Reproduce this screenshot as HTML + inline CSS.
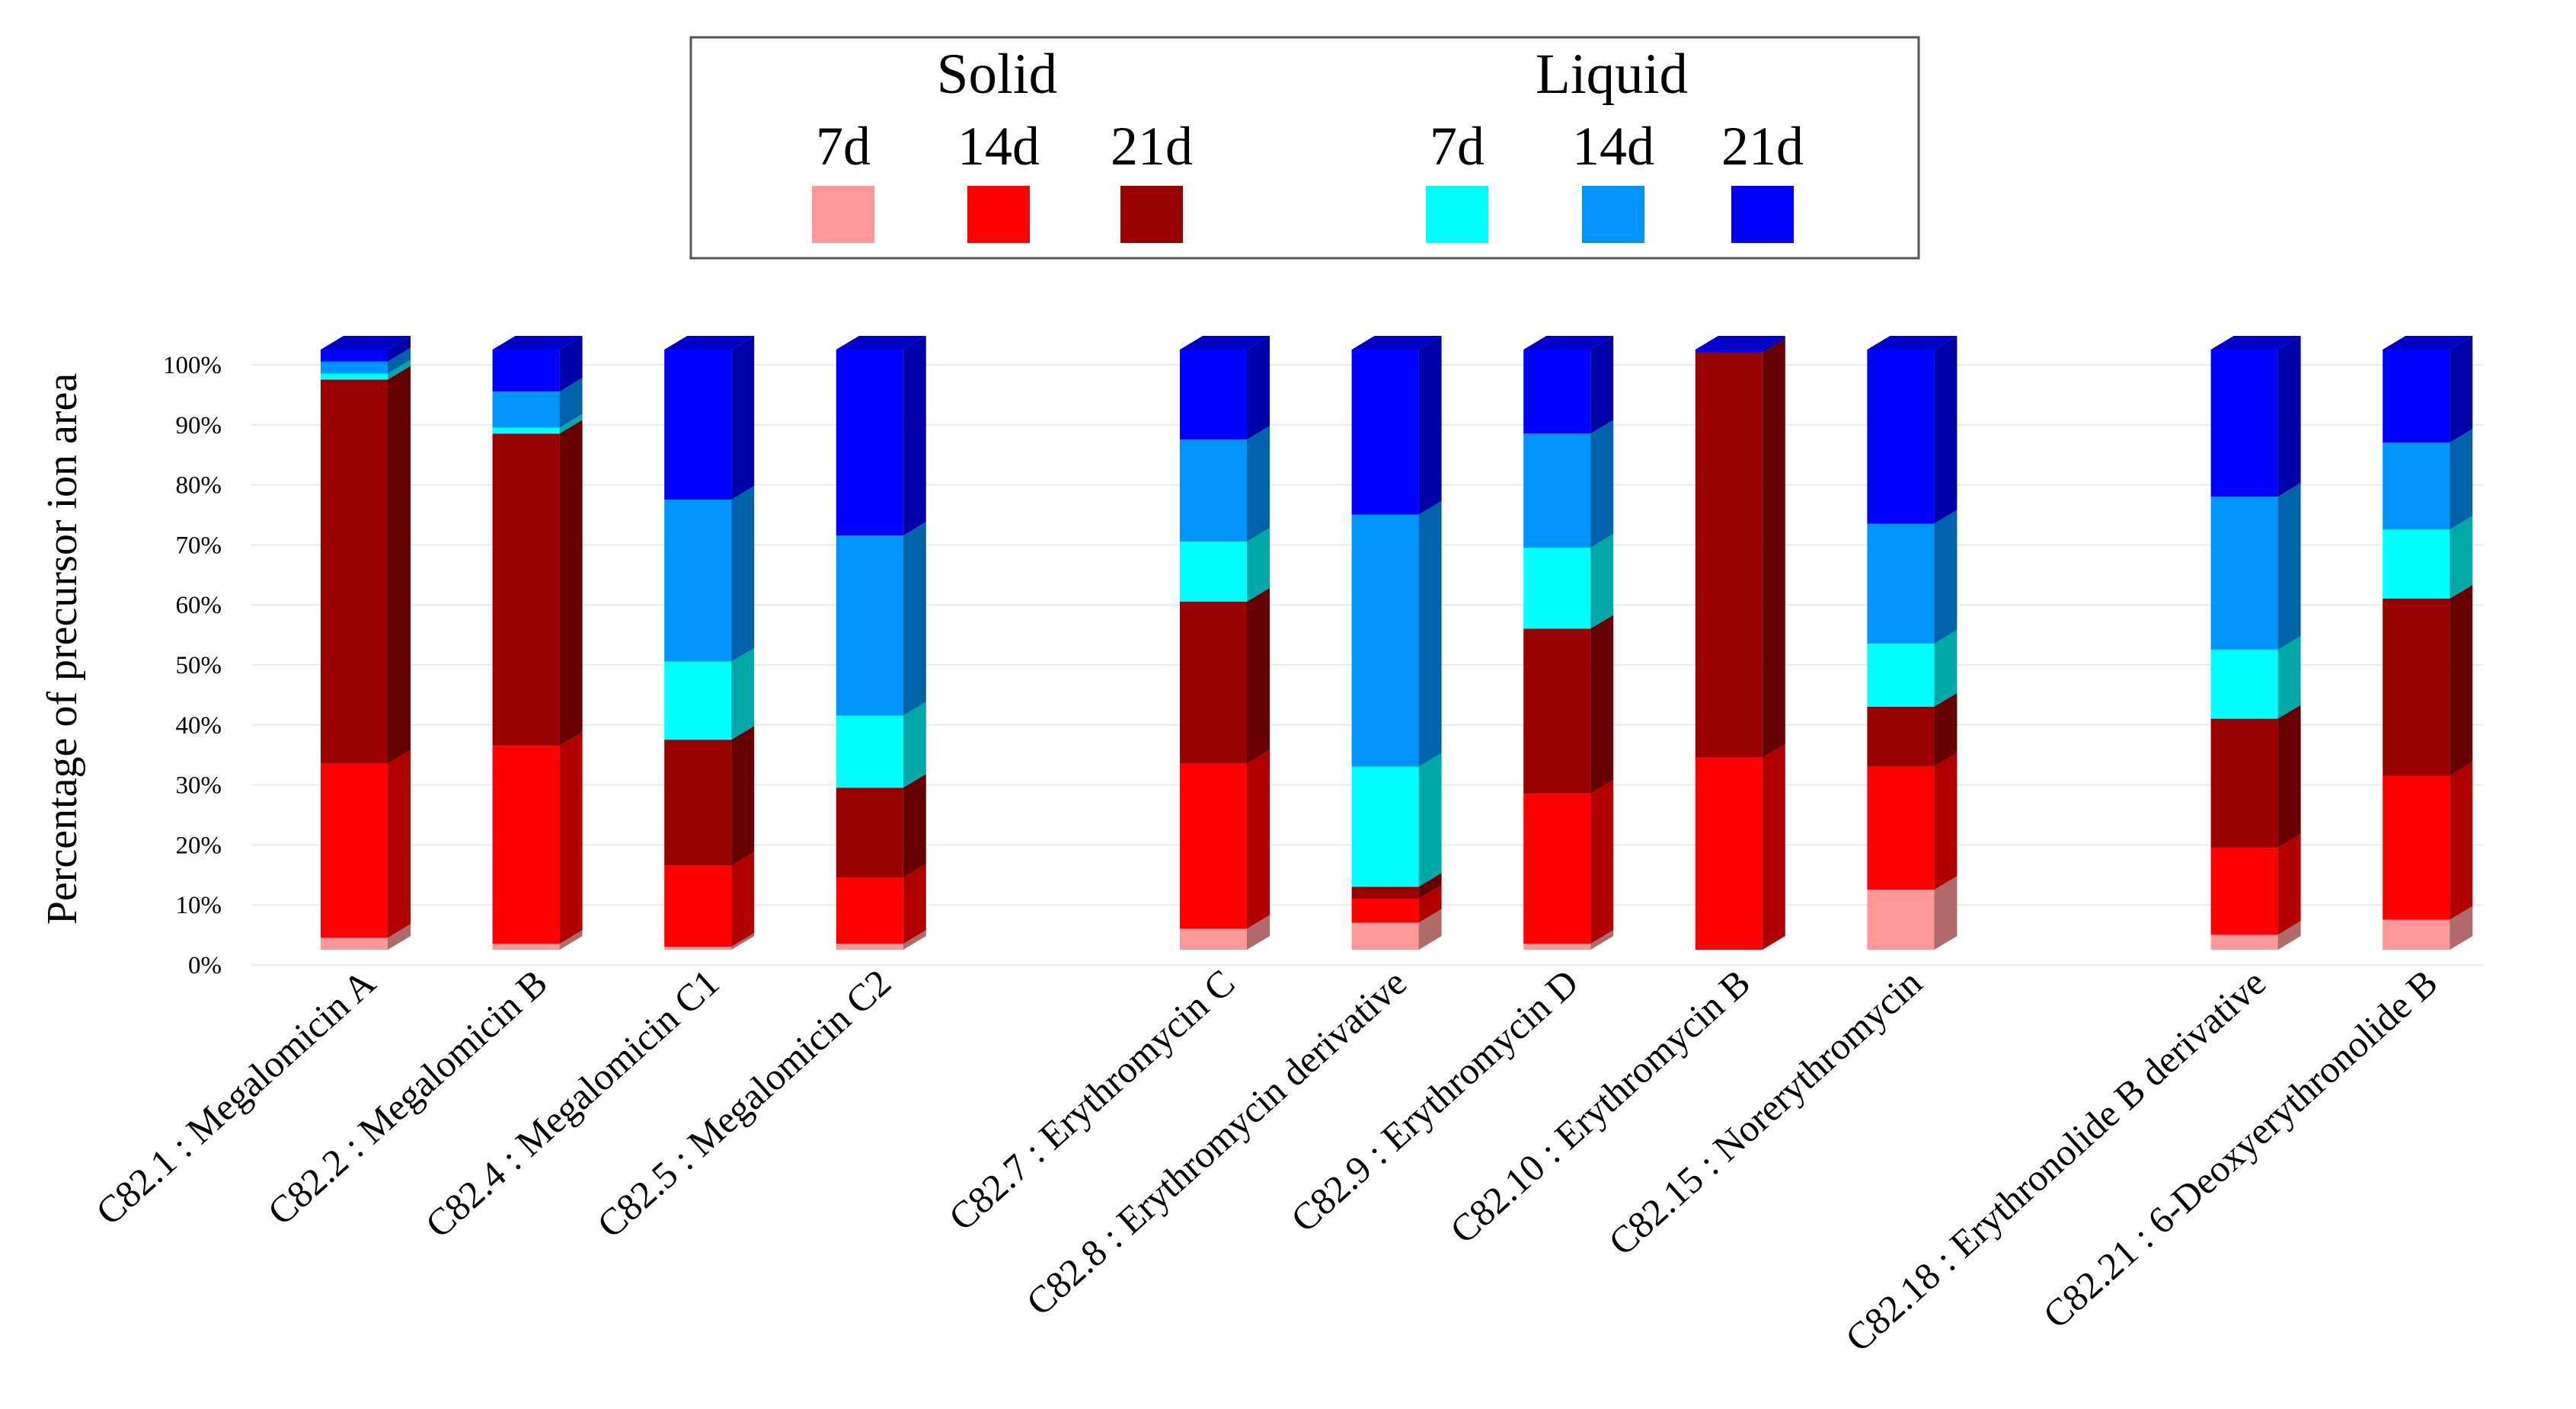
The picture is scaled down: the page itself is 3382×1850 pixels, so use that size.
<!DOCTYPE html>
<html><head><meta charset="utf-8"><style>
html,body{margin:0;padding:0;background:#fff;}
svg{display:block;font-family:"Liberation Serif",serif;}
</style></head><body>
<svg id="chart" width="3382" height="1850" viewBox="0 0 3382 1850" xmlns="http://www.w3.org/2000/svg">
<g>
<rect x="907" y="49" width="1612" height="290" fill="#fff" stroke="#555" stroke-width="3"/>
<text x="1309" y="122" font-size="75" text-anchor="middle">Solid</text>
<text x="2116" y="122" font-size="75" text-anchor="middle">Liquid</text>
<g id="legendItems"></g>
</g>
<g id="grid"></g>
<g id="yaxis"></g>
<text transform="translate(100,852) rotate(-90)" font-size="56" text-anchor="middle">Percentage of precursor ion area</text>
<g id="bars"></g>
<g id="xlabels"></g>
</svg>
<script>
const categories = ["C82.1 : Megalomicin A","C82.2 : Megalomicin B","C82.4 : Megalomicin C1","C82.5 : Megalomicin C2","C82.7 : Erythromycin C","C82.8 : Erythromycin derivative","C82.9 : Erythromycin D","C82.10 : Erythromycin B","C82.15 : Norerythromycin","C82.18 : Erythronolide B derivative","C82.21 : 6-Deoxyerythronolide B"];
const slots = [0,1,2,3,5,6,7,8,9,11,12];
const solid7 =  [2,1,0.5,1,3.5,4.5,1,0,10,2.5,5];
const solid14 = [29,33,13.5,11,27.5,4,25,32,20.5,14.5,24];
const solid21 = [64,52,21,15,27,2,27.5,67.5,10,21.5,29.5];
const liquid7 = [1,1,13,12,10,20,13.5,0,10.5,11.5,11.5];
const liquid14 = [2,6,27,30,17,42,19,0,20,25.5,14.5];
const liquid21 = [2,7,25,31,15,27.5,14,0.5,29,24.5,15.5];
const seriesNames = ["solid-7d","solid-14d","solid-21d","liquid-7d","liquid-14d","liquid-21d"];
const seriesLabels = ["7d","14d","21d","7d","14d","21d"];
const yTicks = [0,10,20,30,40,50,60,70,80,90,100];

const front = ["#ff9999","#ff0000","#990000","#00ffff","#0094ff","#0000ff"];
const side  = ["#b06a6a","#b00000","#660000","#00a8a8","#0062a8","#0000a8"];
const topc  = ["#cc7a7a","#d00000","#7a0000","#00cccc","#0075cc","#0000c8"];
const NS="http://www.w3.org/2000/svg";
function mk(tag,attrs,parent){const e=document.createElementNS(NS,tag);for(const k in attrs)e.setAttribute(k,attrs[k]);parent.appendChild(e);return e;}
const y0=1247, y100=459;
function yScale(v){return y0+(y100-y0)*v/100;}
function xScale(slot){return 421+slot*225.6;}
const bw=88, dx=30, dy=18;

const legX=[1107,1311,1512,1913,2118,2314];
const lg=document.getElementById('legendItems');
seriesLabels.forEach((l,i)=>{
  const t=mk('text',{x:legX[i],y:216,'font-size':72,'text-anchor':'middle'},lg);t.textContent=l;
  
  
  const r=mk('rect',{x:legX[i]-41,y:244,width:82,height:75,fill:front[i]},lg);
  
  
});

const grid=document.getElementById('grid'), ya=document.getElementById('yaxis');
yTicks.forEach(v=>{
  const y=yScale(v)+20;
  const gl=mk('line',{x1:330,x2:3260,y1:y,y2:y,stroke:'#ececec','stroke-width':2},grid);
  
  
  const t=mk('text',{x:291,y:y+11,'font-size':33,'text-anchor':'end'},ya);
  t.textContent=v+'%';
  
  
});

const bars=document.getElementById('bars');
const series=[solid7,solid14,solid21,liquid7,liquid14,liquid21];
categories.forEach((c,ci)=>{
  const x=xScale(slots[ci]);
  const g=mk('g',{},bars);
  
  
  let cum=0, lastIdx=0;
  series.forEach((s,si)=>{
    const v=s[ci]; if(v<=0){return;}
    const ya_=yScale(cum), yb=yScale(cum+v);
    const f=mk('rect',{x:x,y:yb,width:bw,height:ya_-yb,fill:front[si]},g);
    
    
    const sd=mk('polygon',{points:`${x+bw},${ya_} ${x+bw+dx},${ya_-dy} ${x+bw+dx},${yb-dy} ${x+bw},${yb}`,fill:side[si]},g);
    
    
    cum+=v; lastIdx=si;
  });
  const yt=yScale(cum);
  const tp=mk('polygon',{points:`${x},${yt} ${x+dx},${yt-dy} ${x+bw+dx},${yt-dy} ${x+bw},${yt}`,fill:topc[lastIdx]},g);
  
  
  const xl=document.getElementById('xlabels');
  const t=mk('text',{transform:`translate(${x+75},${1295}) rotate(-42)`,'font-size':50,'text-anchor':'end'},xl);
  t.textContent=c;
  
  
});
</script>
</body></html>
